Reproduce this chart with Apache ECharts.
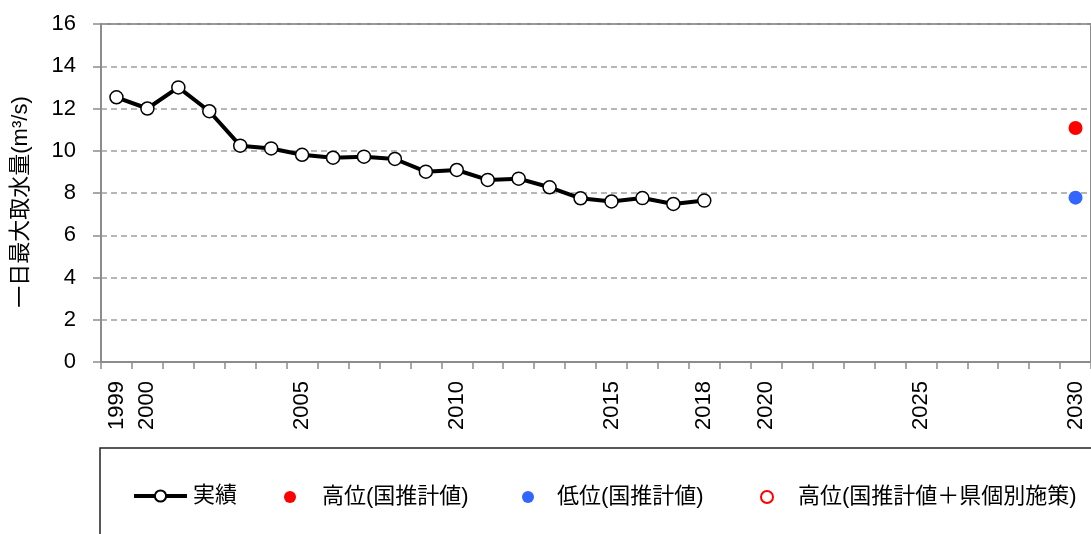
<!DOCTYPE html>
<html>
<head>
<meta charset="utf-8">
<script src="https://cdn.jsdelivr.net/npm/echarts@6/dist/echarts.min.js"></script>
<style>
  html, body { margin: 0; padding: 0; background: #fff; }
  #chart { width: 1091px; height: 534px; }
</style>
</head>
<body>
<div id="chart"></div>
<script>
// Years on the horizontal axis
const years = ['1999','2000','2001','2002','2003','2004','2005','2006','2007','2008',
  '2009','2010','2011','2012','2013','2014','2015','2016','2017','2018',
  '2019','2020','2021','2022','2023','2024','2025','2026','2027','2028','2029','2030'];
// Years whose label is printed under the axis
const labelYears = ['1999','2000','2005','2010','2015','2018','2020','2025','2030'];
// 実績 (1999-2018), m³/s
const actualValues = [12.53, 12.00, 13.00, 11.87, 10.24, 10.11, 9.81, 9.67, 9.72, 9.61,
  9.01, 9.09, 8.62, 8.68, 8.27, 7.75, 7.60, 7.76, 7.48, 7.64];
// 2030 projections
const highNational = [['2030', 11.08]];
const lowNational = [['2030', 7.78]];
const highNationalPlusPref = [];
const yTicks = { min: 0, max: 16, interval: 2 };

const FONT = "'Liberation Sans', 'Noto Sans CJK JP', sans-serif";
const chart = echarts.init(document.getElementById('chart'));

const legendText = { fontSize: 22, color: '#000', fontFamily: FONT };
function legendAt(left, name, gap, extra) {
  return Object.assign({
    left: left,
    top: 486,
    padding: 0,
    itemHeight: 12,
    itemWidth: 12,
    selectedMode: false,
    textStyle: Object.assign({}, legendText, { padding: [0, 0, 0, gap] }),
    data: [name]
  }, extra || {});
}

chart.setOption({
  animation: false,
  textStyle: { fontFamily: FONT },
  grid: {
    left: 101, top: 24, right: -9, bottom: 172,
    show: true, borderColor: '#8c8c8c', borderWidth: 2
  },
  xAxis: {
    type: 'category',
    data: years,
    boundaryGap: true,
    axisLine: { lineStyle: { color: '#8c8c8c', width: 2 } },
    axisTick: { show: true, interval: 0, length: 7, lineStyle: { color: '#8c8c8c', width: 1.5 } },
    axisLabel: {
      interval: (i, v) => labelYears.includes(v),
      rotate: 90,
      margin: 19,
      fontSize: 22,
      color: '#000'
    },
    splitLine: { show: false }
  },
  yAxis: {
    type: 'value',
    min: yTicks.min, max: yTicks.max, interval: yTicks.interval,
    name: '一日最大取水量(m³/s)',
    nameLocation: 'middle',
    nameRotate: 90,
    nameGap: 69,
    nameTextStyle: { fontSize: 22, color: '#000', padding: [0, 18, 0, 0] },
    axisLine: { show: true, lineStyle: { color: '#8c8c8c', width: 2 } },
    axisTick: { show: true, length: 8, lineStyle: { color: '#8c8c8c', width: 1.5 } },
    axisLabel: { margin: 25, fontSize: 22, color: '#000' },
    splitLine: { show: true, lineStyle: { color: '#a0a0a0', width: 1.5, type: [6, 4] } }
  },
  legend: [
    legendAt(132, '実績', 1, {
      itemWidth: 53, itemHeight: 14, top: 485,
      lineStyle: { width: 4, color: '#000' }
    }),
    legendAt(284, '高位(国推計値)', 21),
    legendAt(522, '低位(国推計値)', 18),
    legendAt(760, '高位(国推計値＋県個別施策)', 20)
  ],
  graphic: [{
    type: 'rect',
    shape: { x: 100, y: 448, width: 1000, height: 100 },
    style: { fill: 'none', stroke: '#222', lineWidth: 1.5 },
    silent: true
  }],
  series: [
    {
      name: '実績',
      type: 'line',
      data: actualValues,
      symbol: 'circle',
      symbolSize: 13,
      lineStyle: { color: '#000', width: 4 },
      itemStyle: { color: '#fff', borderColor: '#000', borderWidth: 1.5 },
      z: 3
    },
    {
      name: '高位(国推計値)',
      type: 'scatter',
      data: highNational,
      symbol: 'circle',
      symbolSize: 14,
      itemStyle: { color: '#ff0000', opacity: 1 },
      z: 4
    },
    {
      name: '低位(国推計値)',
      type: 'scatter',
      data: lowNational,
      symbol: 'circle',
      symbolSize: 14,
      itemStyle: { color: '#3366ff', opacity: 1 },
      z: 4
    },
    {
      name: '高位(国推計値＋県個別施策)',
      type: 'scatter',
      data: highNationalPlusPref,
      symbol: 'circle',
      symbolSize: 14,
      itemStyle: { color: '#fff', borderColor: '#ff0000', borderWidth: 1, opacity: 1 },
      z: 4
    }
  ]
});
</script>
</body>
</html>
